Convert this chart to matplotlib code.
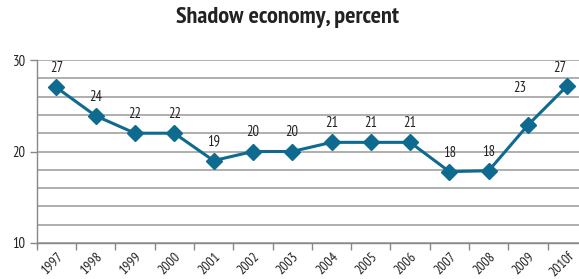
import matplotlib
matplotlib.use("Agg")
import matplotlib.pyplot as plt
from matplotlib.ticker import MultipleLocator, FixedLocator, NullFormatter

years = ["1997", "1998", "1999", "2000", "2001", "2002", "2003", "2004",
         "2005", "2006", "2007", "2008", "2009", "2010f"]
values = [27.0, 23.9, 22.0, 22.0, 19.0, 20.0, 20.0, 21.0, 21.0, 21.0,
          17.8, 17.9, 22.9, 27.2]
labels = ["27", "24", "22", "22", "19", "20", "20", "21", "21", "21",
          "18", "18", "23", "27"]

FONT = ["PT Sans Narrow", "DejaVu Sans"]
plt.rcParams['font.family'] = FONT

fig = plt.figure(figsize=(5.79, 2.79), dpi=100)
W, H = 579, 279
left_px, right_px = 36.7, 587.0
top_px, bot_px = 60.0, 243.0
ax = fig.add_axes([left_px / W, (H - bot_px) / H, (right_px - left_px) / W, (bot_px - top_px) / H])

color = "#0f6a8f"
x = list(range(len(years)))
ax.plot(x, values, color=color, lw=2.2, marker="D", ms=8.5, mec=color, mfc=color, zorder=3)

offsets = [(0, 19)] * 12 + [(-8, 37), (-8, 18)]
for xi, v, lab, off in zip(x, values, labels, offsets):
    ax.annotate(lab, (xi, v), xytext=off, textcoords="offset pixels",
                ha="center", va="center", fontsize=10.5, color="#222222")

ax.set_xlim(-0.5, len(years) - 0.5)
ax.set_ylim(10, 30)
ax.yaxis.set_major_locator(MultipleLocator(10))
ax.yaxis.set_minor_locator(MultipleLocator(2))
ax.grid(axis="y", which="both", color="#a8a8a8", lw=1.3)
ax.set_axisbelow(True)

ax.xaxis.set_major_locator(FixedLocator([i - 0.5 for i in range(len(years) + 1)]))
ax.xaxis.set_major_formatter(NullFormatter())
ax.xaxis.set_minor_locator(FixedLocator(x))
ax.set_xticklabels(years, minor=True, rotation=45, ha="right", rotation_mode="anchor", fontsize=10, color="#222222")
ax.tick_params(axis="x", which="major", length=5, color="#888888", width=1)
ax.tick_params(axis="x", which="minor", length=0, pad=5)
ax.tick_params(axis="y", which="major", length=5, color="#888888", width=1, labelsize=10.5, labelcolor="#222222", pad=3)
ax.tick_params(axis="y", which="minor", length=0)

for s in ["top", "right"]:
    ax.spines[s].set_visible(False)
for s in ["left", "bottom"]:
    ax.spines[s].set_color("#888888")
    ax.spines[s].set_linewidth(1)

fig.text(287 / W, 1 - 18 / H, "Shadow economy, percent", ha="center", va="center",
         fontsize=17.5, fontweight="bold", color="#222222")

fig.savefig("out.png", dpi=100)
